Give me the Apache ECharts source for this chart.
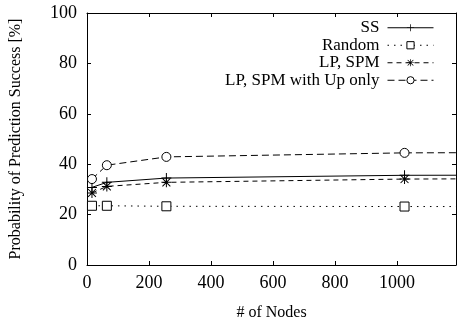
<!DOCTYPE html>
<html>
<head>
<meta charset="utf-8">
<script src="https://cdn.jsdelivr.net/npm/echarts@6/dist/echarts.min.js"></script>
<style>
  html, body { margin: 0; padding: 0; background: #fff; }
  #chart { width: 457px; height: 320px; }
</style>
</head>
<body>
<div id="chart"></div>
<script>
// number of nodes; last point lies past the axis end and is clipped
const nodes = [16, 64, 256, 1024, 4096];
const ss = [30.8, 32.8, 34.5, 35.6, 36.0];
const random = [23.5, 23.5, 23.3, 23.2, 23.2];
const lpSpm = [28.6, 31.2, 32.8, 34.1, 35.5];
const lpSpmUp = [34.1, 39.6, 42.9, 44.5, 45.5];

const xTicks = [0, 200, 400, 600, 800, 1000];
const yTicks = [0, 20, 40, 60, 80, 100];

const font = 'Liberation Serif';

const plusPath = 'path://M0,4.5L10,4.5L10,5.5L0,5.5Z M4.5,0L5.5,0L5.5,10L4.5,10Z';
const starPath = 'path://M0,4.5L10,4.5L10,5.5L0,5.5Z M4.5,0L5.5,0L5.5,10L4.5,10Z ' +
  'M1.4,0.7L9.3,8.6L8.6,9.3L0.7,1.4Z M8.6,0.7L9.3,1.4L1.4,9.3L0.7,8.6Z';

const pairs = (ys) => nodes.map((x, i) => [x, ys[i]]);

function makeSeries(name, ys, symbol, size, dash, itemStyle) {
  return {
    name,
    type: 'line',
    data: pairs(ys),
    symbol,
    symbolSize: size,
    showAllSymbol: true,
    clip: true,
    color: '#000',
    lineStyle: { color: '#000', width: 1, type: dash },
    itemStyle,
    emphasis: { disabled: true },
  };
}

const chart = echarts.init(document.getElementById('chart'));

const sharedX = {
  type: 'value',
  min: 0,
  max: 1190,
  interval: 200,
  splitLine: { show: false },
  axisLine: { show: true, onZero: false, lineStyle: { color: '#000', width: 1 } },
  axisTick: { show: true, inside: true, length: 4, lineStyle: { color: '#000' } },
};
const sharedY = {
  type: 'value',
  min: 0,
  max: 100,
  interval: 20,
  splitLine: { show: false },
  axisLine: { show: true, onZero: false, lineStyle: { color: '#000', width: 1 } },
  axisTick: { show: true, inside: true, length: 4, lineStyle: { color: '#000' } },
};

chart.setOption({
  animation: false,
  textStyle: { fontFamily: font, color: '#000' },
  grid: { left: 87, right: 1, top: 13, bottom: 55, outerBoundsMode: 'none' },
  legend: {
    orient: 'vertical',
    right: 18,
    top: 14,
    align: 'right',
    itemWidth: 46,
    itemHeight: 9,
    itemGap: 0,
    selectedMode: false,
    lineStyle: { width: 1 },
    itemStyle: { borderWidth: 1 },
    textStyle: { fontFamily: font, fontSize: 17, lineHeight: 17.5, color: '#000', padding: [0, 3, 0, 0] },
    data: ['SS', 'Random', 'LP, SPM', 'LP, SPM with Up only'],
  },
  xAxis: [
    Object.assign({}, sharedX, {
      position: 'bottom',
      name: '# of Nodes',
      nameLocation: 'middle',
      nameGap: 40,
      nameTextStyle: { fontFamily: font, fontSize: 16, color: '#000' },
      axisLabel: {
        fontFamily: font, fontSize: 18, color: '#000', margin: 9,
        formatter: (v) => (xTicks.includes(v) ? String(v) : ''),
      },
    }),
    Object.assign({}, sharedX, { position: 'top', axisLabel: { show: false } }),
  ],
  yAxis: [
    Object.assign({}, sharedY, {
      position: 'left',
      name: 'Probability of Prediction Success [%]',
      nameLocation: 'middle',
      nameGap: 63,
      nameTextStyle: { fontFamily: font, fontSize: 16, color: '#000' },
      axisLabel: {
        fontFamily: font, fontSize: 18, color: '#000', margin: 10,
        formatter: (v) => (yTicks.includes(v) ? String(v) : ''),
      },
    }),
    Object.assign({}, sharedY, { position: 'right', axisLabel: { show: false } }),
  ],
  series: [
    makeSeries('SS', ss, plusPath, 10, 'solid', { color: '#000', borderWidth: 0 }),
    makeSeries('Random', random, 'rect', 9, [1.5, 5], { color: '#fff', borderColor: '#000', borderWidth: 1 }),
    makeSeries('LP, SPM', lpSpm, starPath, 10, [5, 4], { color: '#000', borderWidth: 0 }),
    makeSeries('LP, SPM with Up only', lpSpmUp, 'circle', 9, [7, 4], { color: '#fff', borderColor: '#000', borderWidth: 1 }),
  ],
});
</script>
</body>
</html>
